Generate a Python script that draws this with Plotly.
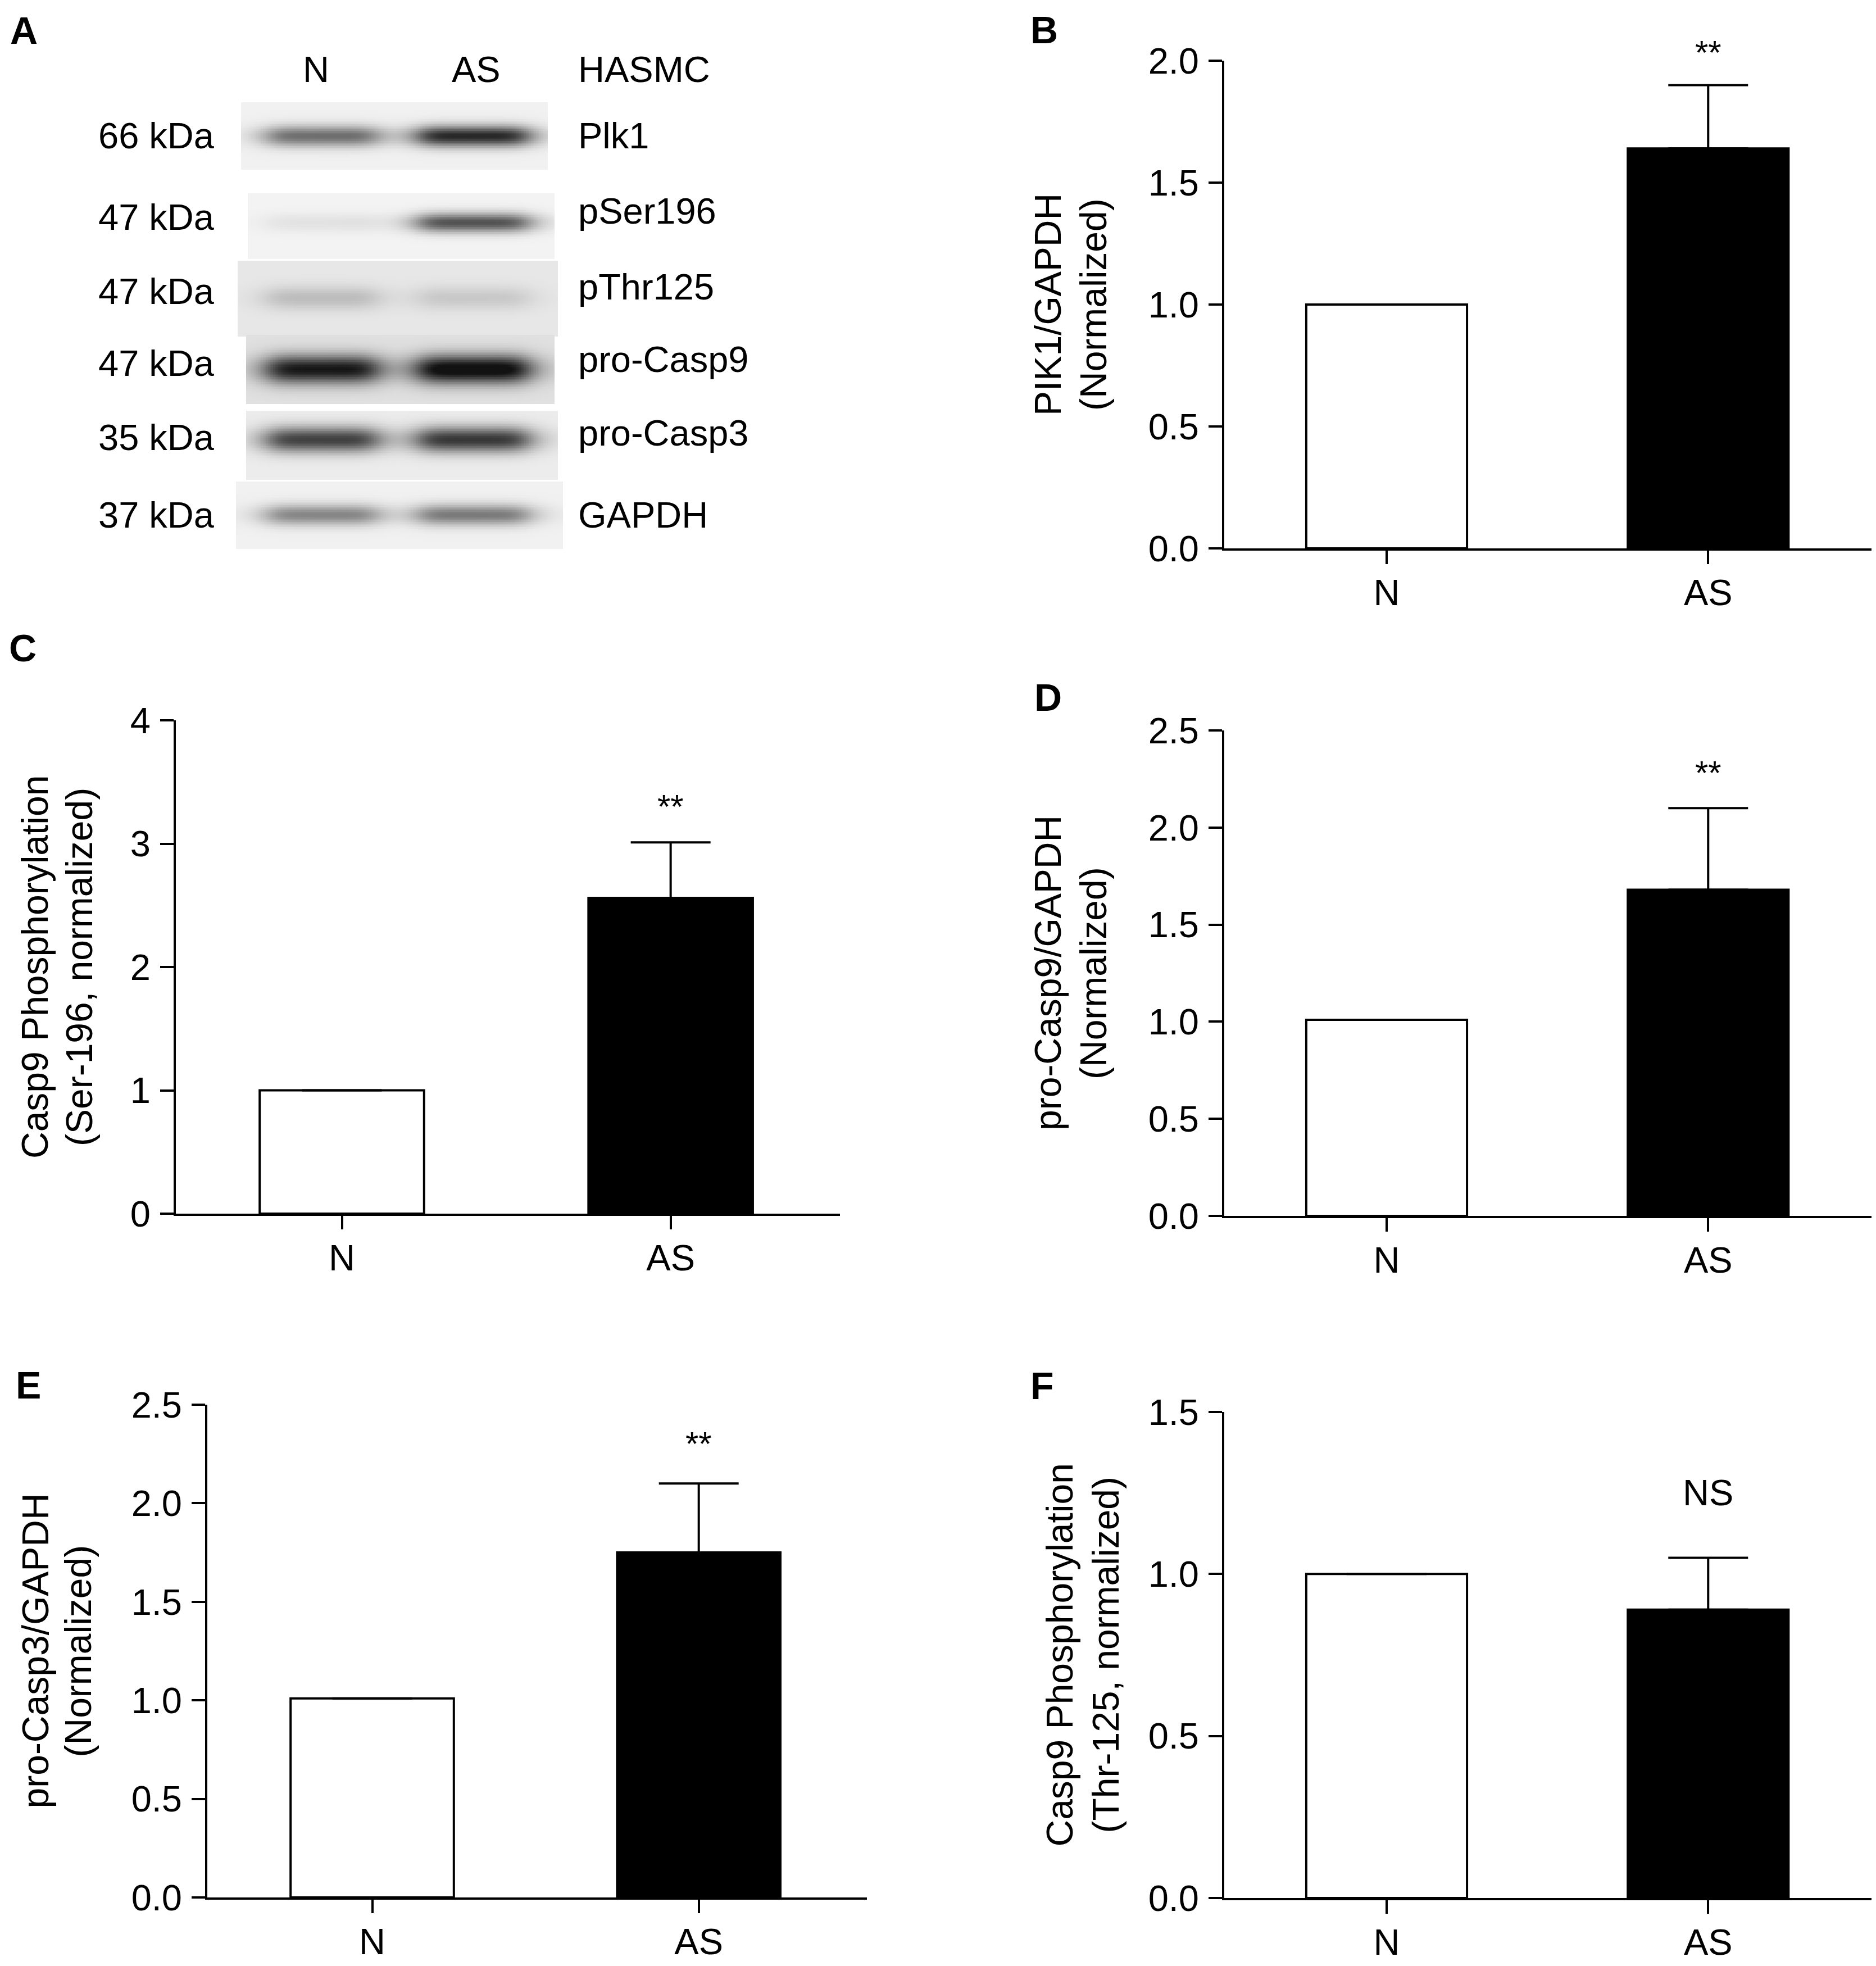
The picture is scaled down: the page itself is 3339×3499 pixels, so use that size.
import numpy as np
import plotly.graph_objects as go

# ---------------- data ----------------
groups = ["N", "AS"]

b_means = [1.00, 1.64]; b_err = [0.0, 0.26]
c_means = [1.00, 2.56]; c_err = [0.0, 0.45]
d_means = [1.01, 1.68]; d_err = [0.0, 0.42]
e_means = [1.01, 1.75]; e_err = [0.0, 0.35]
f_means = [1.00, 0.89]; f_err = [0.0, 0.16]

b_sig = "**"; c_sig = "**"; d_sig = "**"; e_sig = "**"; f_sig = "NS"

b_ticks = [0.0, 0.5, 1.0, 1.5, 2.0]
c_ticks = [0, 1, 2, 3, 4]
d_ticks = [0.0, 0.5, 1.0, 1.5, 2.0, 2.5]
e_ticks = [0.0, 0.5, 1.0, 1.5, 2.0, 2.5]
f_ticks = [0.0, 0.5, 1.0, 1.5]

b_title = ["PIK1/GAPDH", "(Normalized)"]
c_title = ["Casp9 Phosphorylation", "(Ser-196, normalized)"]
d_title = ["pro-Casp9/GAPDH", "(Normalized)"]
e_title = ["pro-Casp3/GAPDH", "(Normalized)"]
f_title = ["Casp9 Phosphorylation", "(Thr-125, normalized)"]

# western blot (panel A): relative band intensities
blot_proteins = ["Plk1", "pSer196", "pThr125", "pro-Casp9", "pro-Casp3", "GAPDH"]
blot_mw = ["66 kDa", "47 kDa", "47 kDa", "47 kDa", "35 kDa", "37 kDa"]
band_N = [0.55, 0.07, 0.18, 0.85, 0.72, 0.45]
band_AS = [0.85, 0.68, 0.13, 0.95, 0.76, 0.50]
blot_bg = [0.06, 0.05, 0.10, 0.13, 0.08, 0.06]
blot_header = ["N", "AS", "HASMC"]

# ---------------- layout geometry (pixels) ----------------
W, H = 3339, 3499
OFF = 8  # page body margin of the html page
FONT = "Arial, Liberation Sans, Helvetica, sans-serif"
TICK = 65
TITLE = 66
LETTER = 68
LW = 4


def px_x(p):
    return (p - OFF) / W


def px_y(p):
    return 1 - (p - OFF) / H


panels = [
    # name, means, err, sig, ticks, title, x-dom px, y-dom px (top,bottom), title line centers, sig shift, letter pos (left, cap centre)
    ("B", b_means, b_err, b_sig, b_ticks, b_title, (2179, 3335), (108, 976), (1865, 1946), 58, (1832, 53)),
    ("C", c_means, c_err, c_sig, c_ticks, c_title, (313, 1495), (1282, 2160), (62, 141), 64, (14, 1153)),
    ("D", d_means, d_err, d_sig, d_ticks, d_title, (2179, 3335), (1300, 2164), (1865, 1946), 63, (1839, 1241)),
    ("E", e_means, e_err, e_sig, e_ticks, e_title, (369, 1543), (2500, 3377), (62, 138), 71, (26, 2465)),
    ("F", f_means, f_err, f_sig, f_ticks, f_title, (2179, 3335), (2513, 3378), (1885, 1967), 116, (1832, 2466)),
]

fig = go.Figure()
annotations = []

for i, (name, means, err, sig, ticks, title, xd, yd, tcent, sshift, lpos) in enumerate(panels):
    k = i + 1
    xa = "x" if k == 1 else f"x{k}"
    ya = "y" if k == 1 else f"y{k}"
    fig.add_trace(go.Bar(
        x=groups, y=means, xaxis=xa, yaxis=ya, width=0.5,
        marker=dict(color=["white", "black"], line=dict(color="black", width=LW)),
        error_y=dict(type="data", array=err, arrayminus=[0, 0], symmetric=False,
                     color="black", thickness=LW, width=71),
        showlegend=False, hoverinfo="skip",
    ))
    ymax = ticks[-1]
    fmt = "d" if name == "C" else ".1f"
    fig.update_layout(**{
        ("xaxis" if k == 1 else f"xaxis{k}"): dict(
            domain=[px_x(xd[0]), px_x(xd[1])], anchor=ya, type="category",
            range=[-0.505, 1.515], showline=True, linewidth=LW, linecolor="black",
            ticks="outside", ticklen=24, tickwidth=LW, tickcolor="black",
            showgrid=False, zeroline=False, automargin=False, ticklabelstandoff=-5,
            tickfont=dict(family=FONT, size=TICK, color="black"),
        ),
        ("yaxis" if k == 1 else f"yaxis{k}"): dict(
            domain=[px_y(yd[1]), px_y(yd[0])], anchor=xa,
            range=[0, ymax], tickvals=ticks, tickformat=fmt,
            showline=True, linewidth=LW, linecolor="black",
            ticks="outside", ticklen=24, tickwidth=LW, tickcolor="black",
            showgrid=False, zeroline=False, automargin=False, ticklabelstandoff=4,
            tickfont=dict(family=FONT, size=TICK, color="black"),
        ),
    })
    # significance mark
    annotations.append(dict(
        x="AS", y=means[1] + err[1], xref=xa, yref=ya, text=sig, showarrow=False,
        xanchor="center", yanchor="middle", yshift=sshift,
        font=dict(family=FONT, size=60 if sig == "**" else TICK, color="black"),
    ))
    # y title (two rotated lines)
    ymid = px_y((yd[0] + yd[1]) / 2)
    for line, cx in zip(title, tcent):
        annotations.append(dict(
            x=px_x(cx), y=ymid, xref="paper", yref="paper", text=line,
            textangle=-90, showarrow=False, xanchor="center", yanchor="middle",
            font=dict(family=FONT, size=TITLE, color="black"),
        ))
    # panel letter
    annotations.append(dict(
        x=px_x(lpos[0]), y=px_y(lpos[1]), xref="paper", yref="paper",
        text=f"<b>{name}</b>", showarrow=False, xanchor="left", yanchor="middle",
        font=dict(family=FONT, size=LETTER, color="black"),
    ))

# ---------------- panel A: western blot ----------------
blot_geom = [  # x0, x1, y0, y1, band center y, band sigma
    (429, 973, 182, 300, 242, 13),
    (442, 987, 345, 459, 396, 12),
    (424, 991, 463, 597, 530, 15),
    (438, 987, 597, 718, 657, 18),
    (438, 991, 731, 852, 782, 16),
    (420, 1000, 858, 976, 916, 13),
]
lane_x = [573, 842]
lane_hw = 102
label_y = [241, 387, 518, 646, 778, 916]
prot_y = [241, 375, 510, 640, 770, 916]

gx = np.arange(418, 1004, 3.0)
gy = np.arange(180, 980, 3.0)
GX, GY = np.meshgrid(gx, gy)
Z = np.full(GX.shape, np.nan)
for (x0, x1, y0, y1, yc, sg), bg, iN, iA in zip(blot_geom, blot_bg, band_N, band_AS):
    inside = (GX >= x0) & (GX <= x1) & (GY >= y0) & (GY <= y1)
    val = np.full(GX.shape, bg)
    for xc, inten in zip(lane_x, [iN, iA]):
        val = val + inten * np.exp(-0.5 * ((GY - yc) / sg) ** 2) / (1 + ((GX - xc) / lane_hw) ** 6)
    Z[inside] = np.clip(val[inside], 0, 1)

fig.add_trace(go.Heatmap(
    x=gx, y=gy, z=Z, xaxis="x6", yaxis="y6", zmin=0, zmax=1,
    colorscale=[[0, "rgb(255,255,255)"], [1, "rgb(18,18,18)"]],
    showscale=False, hoverinfo="skip",
))
fig.update_layout(
    xaxis6=dict(domain=[0, px_x(1100 + OFF)], range=[OFF, 1100 + OFF], visible=False,
                anchor="y6", automargin=False),
    yaxis6=dict(domain=[px_y(1000 + OFF), 1], range=[1000 + OFF, OFF], visible=False,
                anchor="x6", automargin=False),
)

for t, y in zip(blot_mw, label_y):
    annotations.append(dict(x=px_x(384), y=px_y(y), xref="paper", yref="paper", text=t,
                            showarrow=False, xanchor="right", yanchor="middle",
                            font=dict(family=FONT, size=TICK, color="black")))
for t, y in zip(blot_proteins, prot_y):
    annotations.append(dict(x=px_x(1027), y=px_y(y), xref="paper", yref="paper", text=t,
                            showarrow=False, xanchor="left", yanchor="middle",
                            font=dict(family=FONT, size=TICK, color="black")))
for t, xx, anc in zip(blot_header, [562, 847, 1027], ["center", "center", "left"]):
    annotations.append(dict(x=px_x(xx), y=px_y(124), xref="paper", yref="paper", text=t,
                            showarrow=False, xanchor=anc, yanchor="middle",
                            font=dict(family=FONT, size=TICK, color="black")))
annotations.append(dict(x=px_x(16), y=px_y(54), xref="paper", yref="paper", text="<b>A</b>",
                        showarrow=False, xanchor="left", yanchor="middle",
                        font=dict(family=FONT, size=LETTER, color="black")))

fig.update_layout(
    width=W, height=H, margin=dict(l=0, r=0, t=0, b=0, pad=0, autoexpand=False),
    paper_bgcolor="white", plot_bgcolor="rgba(0,0,0,0)",
    annotations=annotations, bargap=0.5,
)

fig.write_html("out.html")
